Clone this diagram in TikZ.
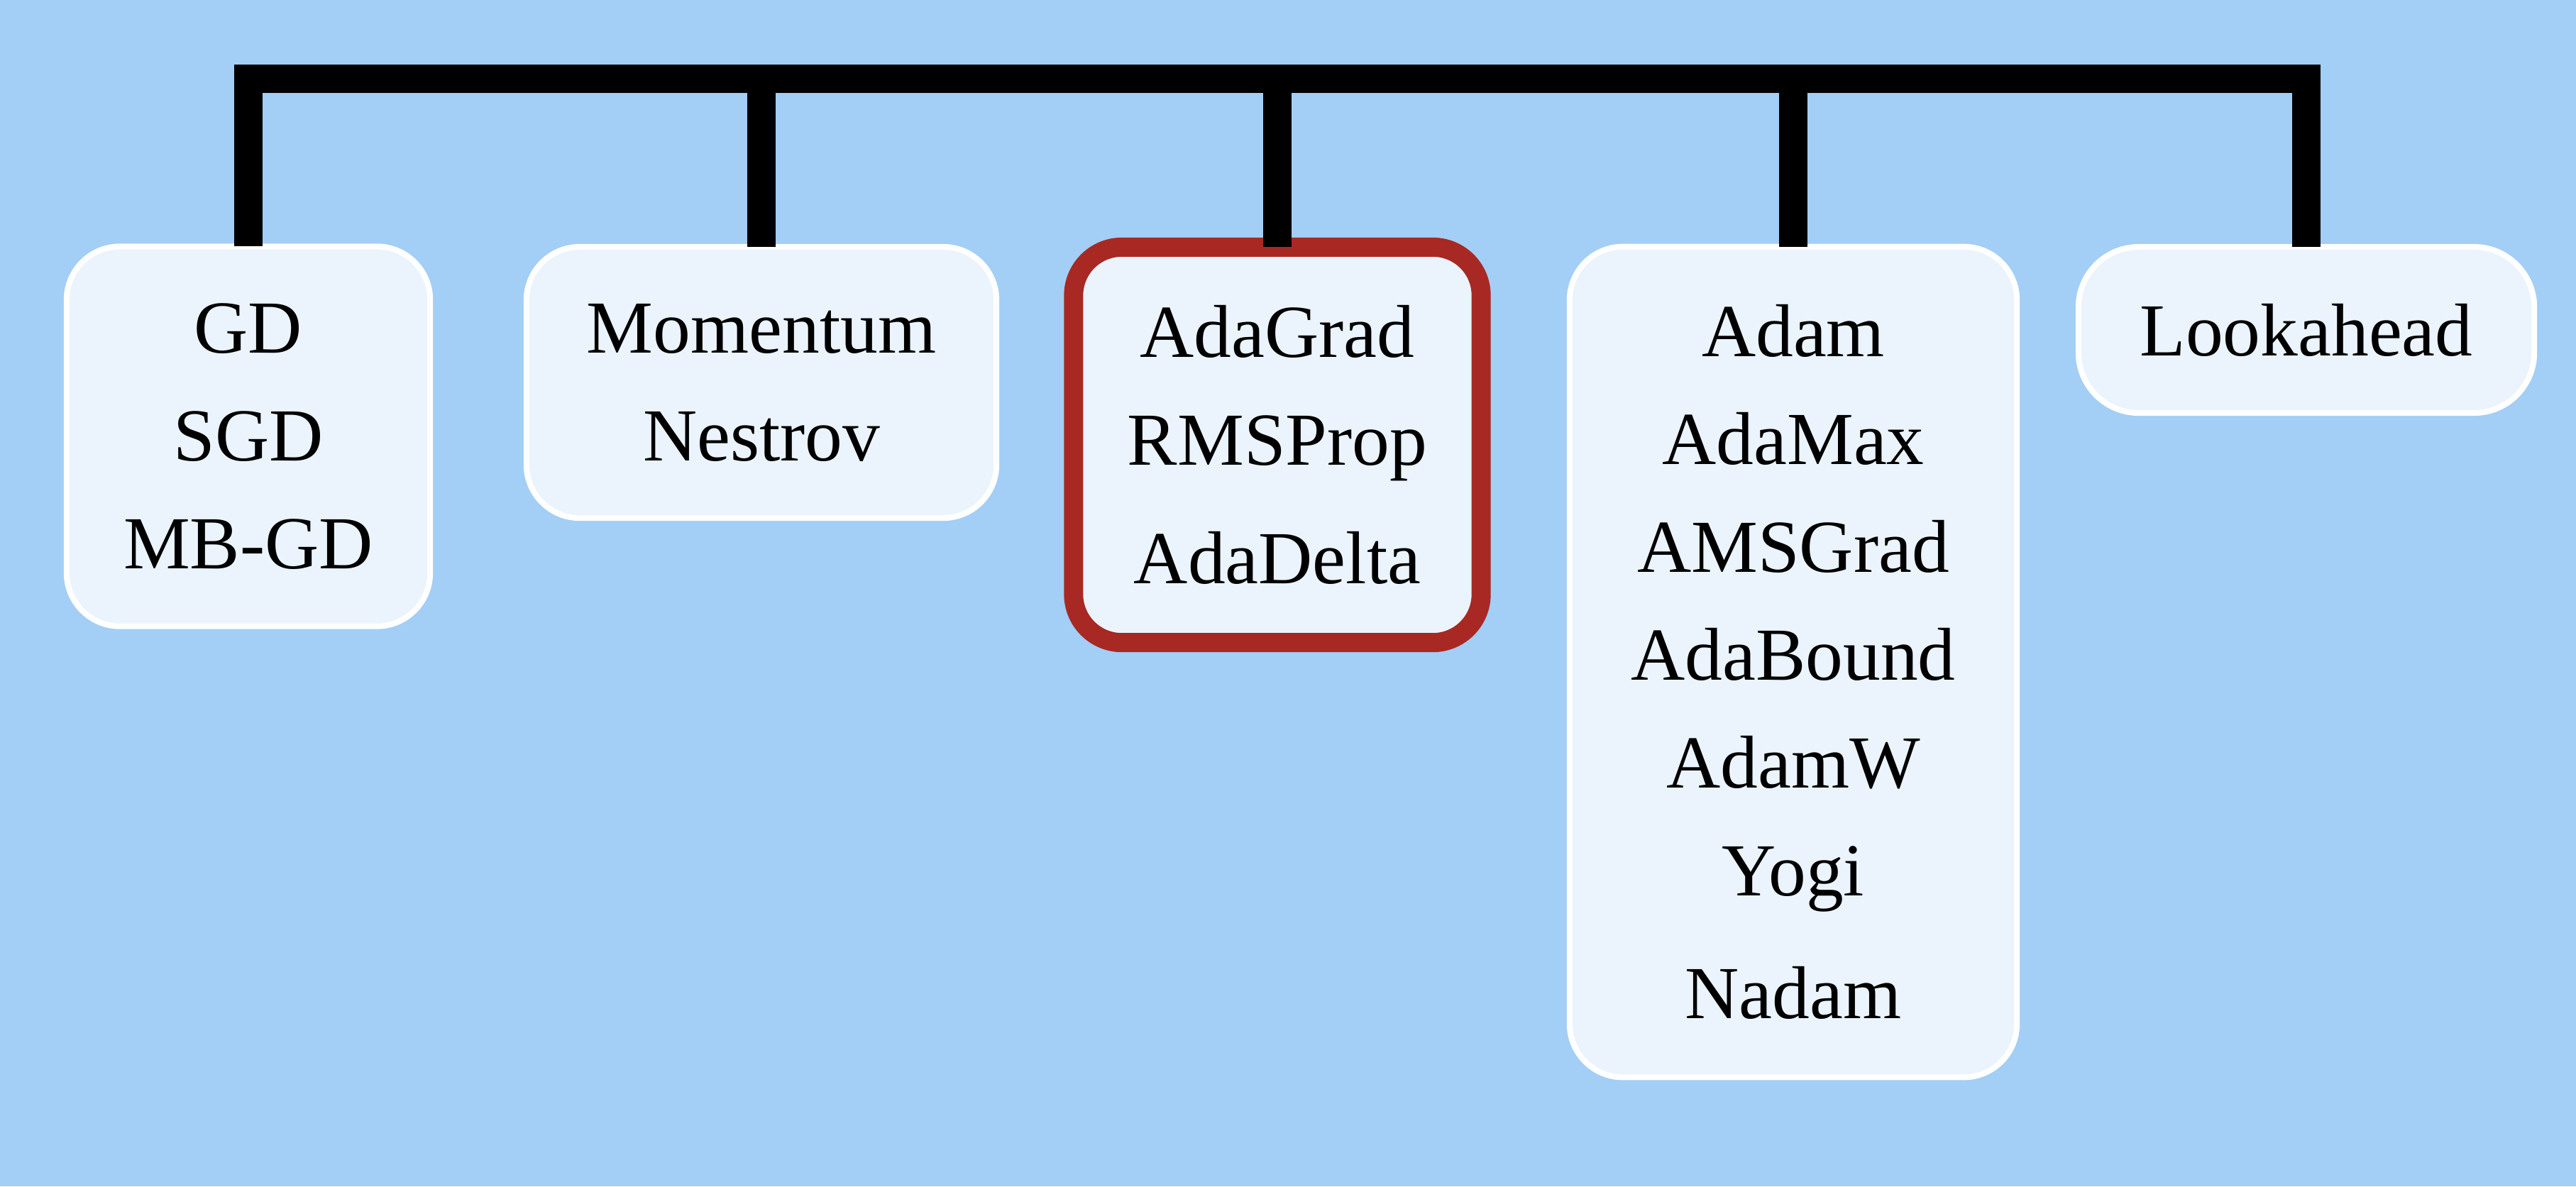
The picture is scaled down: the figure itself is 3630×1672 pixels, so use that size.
\documentclass[tikz,border=0pt]{standalone}
\usepackage{fontspec}
\setmainfont{Liberation Serif}
\definecolor{bgblue}{RGB}{163,206,246}
\definecolor{boxfill}{RGB}{235,244,253}
\definecolor{hired}{RGB}{168,40,36}
\begin{document}
\begin{tikzpicture}[x=0.01cm,y=-0.01cm,
  optbox/.style={draw=white, line width=0.08cm, fill=boxfill, rounded corners=0.75cm,
    inner sep=0pt, align=center, font=\fontsize{30}{43.2}\selectfont, text=black},
  hibox/.style={optbox, draw=hired, line width=0.27cm, rounded corners=0.68cm},
  tree/.style={line width=0.40cm, draw=black, line join=miter}]
\fill[bgblue] (0,0) rectangle (3630,1672);
\useasboundingbox (0,0) rectangle (3630,1672);
\node[optbox, minimum width=5.12cm, minimum height=5.35cm] (b1) at (350,615) {GD\\SGD\\MB-GD};
\node[optbox, minimum width=6.62cm, minimum height=3.82cm] (b2) at (1073,539) {Momentum\\Nestrov};
\node[hibox, minimum width=5.74cm, minimum height=5.57cm] (b3) at (1800,627) {AdaGrad\\RMSProp\\[4.5pt]AdaDelta};
\node[optbox, minimum width=6.30cm, minimum height=11.70cm] (b4) at (2527,933) {Adam\\AdaMax\\AMSGrad\\AdaBound\\AdamW\\Yogi\\[6pt]Nadam};
\node[optbox, minimum width=6.42cm, minimum height=2.34cm, rounded corners=0.85cm] (b5) at (3250,465) {Lookahead};
\coordinate (bar) at (0,111);
\draw[tree] ([yshift=-0.04cm]b1.north) -- (b1.north |- bar) -- (b5.north |- bar) -- ([yshift=-0.04cm]b5.north);
\draw[tree] ([yshift=-0.04cm]b2.north) -- (b2.north |- bar);
\draw[tree] ([yshift=-0.135cm]b3.north) -- (b3.north |- bar);
\draw[tree] ([yshift=-0.04cm]b4.north) -- (b4.north |- bar);
\end{tikzpicture}
\end{document}
